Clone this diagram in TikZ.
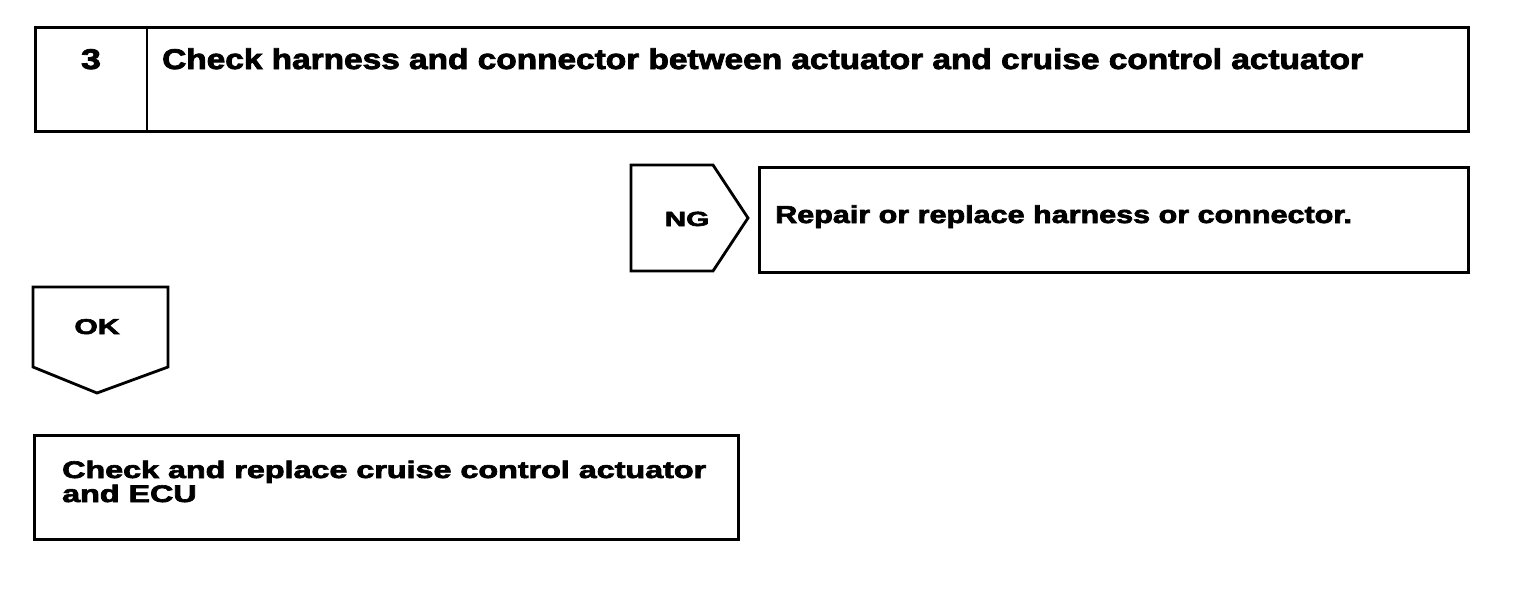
\documentclass[tikz,border=0pt]{standalone}
\usepackage{fontspec}
\setmainfont{Liberation Sans}[BoldFeatures={FakeBold=2.6}]
\newcommand{\wide}[2]{\scalebox{#1}[1]{#2}}
\begin{document}
\begin{tikzpicture}[x=1pt,y=-1pt,
  frame/.style={draw,line width=2.8pt,line join=miter},
  boxnode/.style={draw,line width=2.8pt,inner sep=0pt,anchor=north west},
  txt/.style={inner sep=0pt,font=\bfseries}]
\useasboundingbox (0,0) rectangle (1520,608);
% top box
\node[boxnode,minimum width=1433pt,minimum height=104pt] (top) at (34,26) {};
\coordinate (divt) at (147,26);
\coordinate (divb) at (147,130);
\draw[frame] (divt) -- (divb);
\node[txt,anchor=base,font=\bfseries\fontsize{28.5}{30}\selectfont] (num) at (91,69) {\wide{1.25}{3}};
\node[txt,anchor=base west,font=\bfseries\fontsize{28.5}{30}\selectfont] (title) at (162,69) {\wide{1.172}{Check harness and connector between actuator and cruise control actuator}};
% NG
\draw[frame] (631,165) coordinate (ng1) -- (713,165) -- (748,218) coordinate (ngtip) -- (713,271) -- (631,271) -- cycle;
\node[txt,anchor=base,font=\bfseries\fontsize{20.5}{22}\selectfont] (ng) at (687,226) {\wide{1.45}{NG}};
\node[boxnode,minimum width=709pt,minimum height=105pt] (repair) at (758,166) {};
\node[txt,anchor=base west,font=\bfseries\fontsize{24.5}{26}\selectfont] (repairtxt) at (775,223) {\wide{1.246}{Repair or replace harness or connector.}};
% OK
\draw[frame] (33,287) coordinate (ok1) -- (168,287) -- (168,367) -- (97,393) coordinate (oktip) -- (33,367) -- cycle;
\node[txt,anchor=base,font=\bfseries\fontsize{21.5}{23}\selectfont] (ok) at (97,334) {\wide{1.4}{OK}};
% bottom box
\node[boxnode,minimum width=704pt,minimum height=104pt] (final) at (33,434) {};
\node[txt,anchor=base west,font=\bfseries\fontsize{24}{23}\selectfont] (finaltxt1) at (62,478) {\wide{1.345}{Check and replace cruise control actuator}};
\node[txt,anchor=base west,font=\bfseries\fontsize{24}{23}\selectfont] (finaltxt2) at (62,502) {\wide{1.345}{and ECU}};
\end{tikzpicture}
\end{document}
